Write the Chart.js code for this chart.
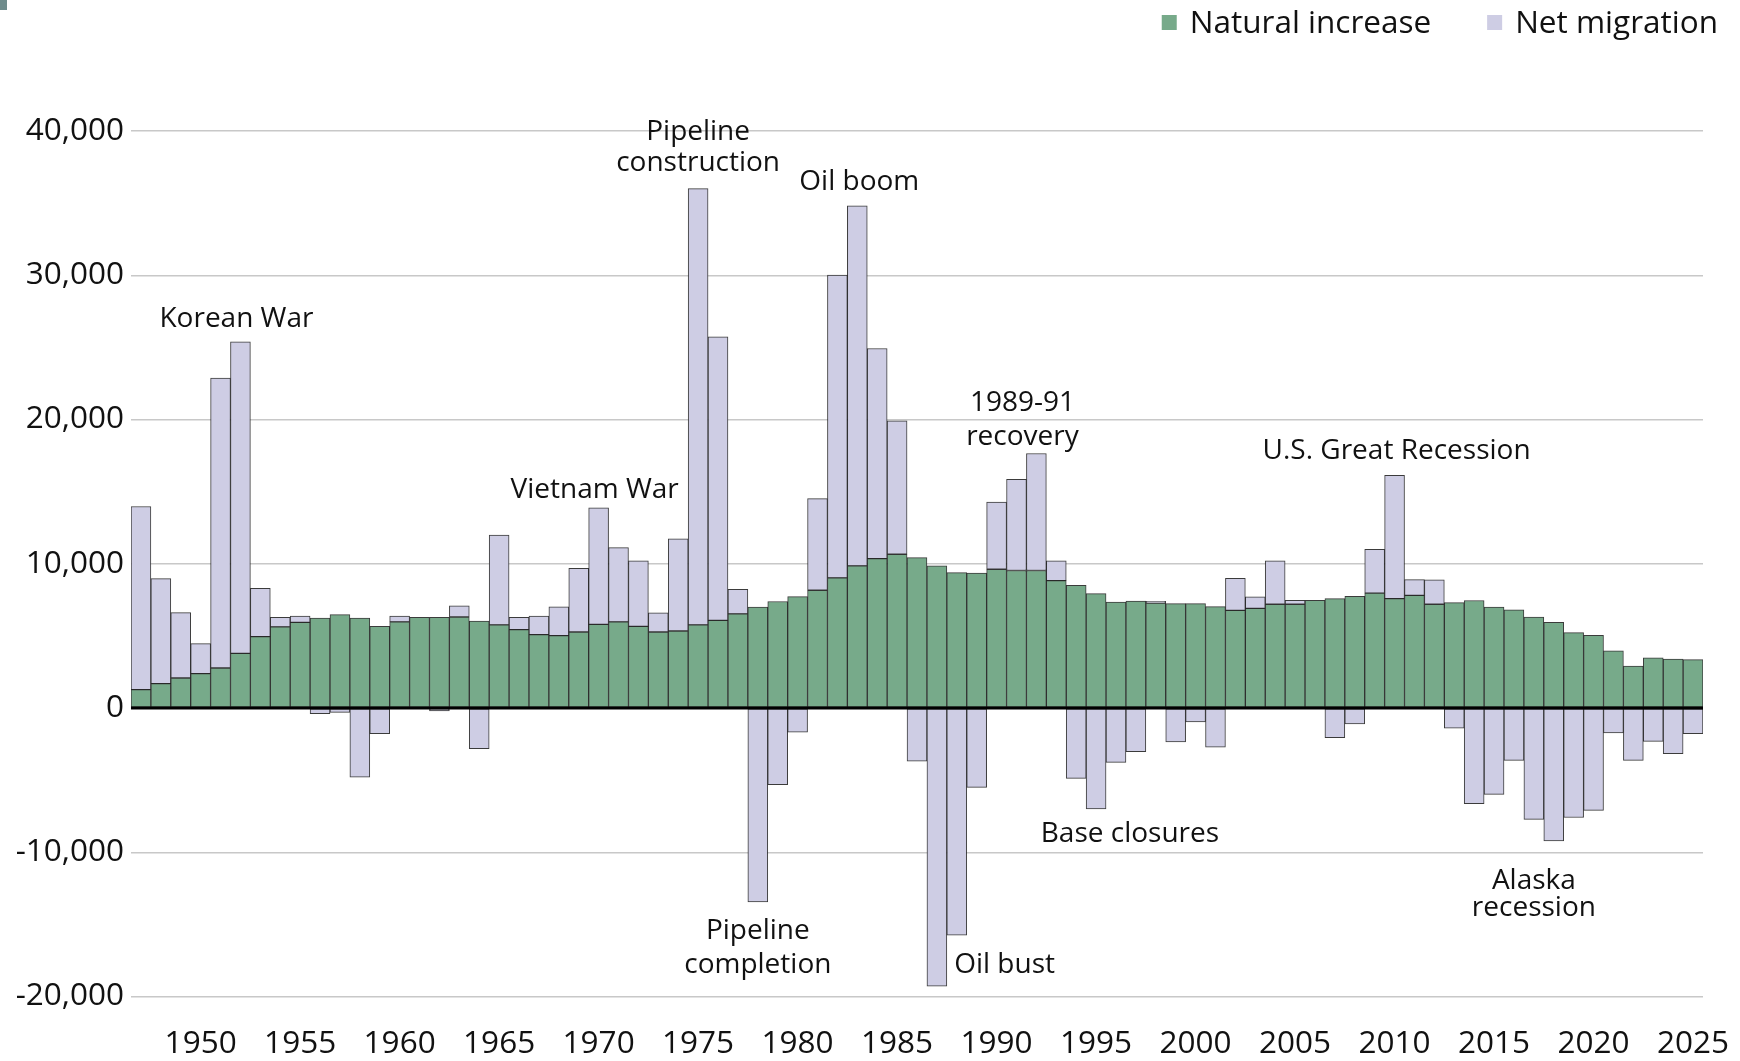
<!DOCTYPE html>
<html>
<head>
<meta charset="utf-8">
<title>Alaska population change</title>
<script src="https://cdn.jsdelivr.net/npm/chart.js@4.4.1/dist/chart.umd.min.js"></script>
<style>
  html, body { margin: 0; padding: 0; background: #fff; }
  #wrap { position: relative; width: 1740px; height: 1061px; }
  #corner { position: absolute; left: 0; top: 0; width: 7px; height: 10px; background: #6f8c8c; }
</style>
</head>
<body>
<div id="wrap"><canvas id="chart"></canvas><div id="corner"></div></div>
<script>
// Years on the x axis
const years = [
  1947, 1948, 1949, 1950, 1951, 1952, 1953, 1954, 1955, 1956,
  1957, 1958, 1959, 1960, 1961, 1962, 1963, 1964, 1965, 1966,
  1967, 1968, 1969, 1970, 1971, 1972, 1973, 1974, 1975, 1976,
  1977, 1978, 1979, 1980, 1981, 1982, 1983, 1984, 1985, 1986,
  1987, 1988, 1989, 1990, 1991, 1992, 1993, 1994, 1995, 1996,
  1997, 1998, 1999, 2000, 2001, 2002, 2003, 2004, 2005, 2006,
  2007, 2008, 2009, 2010, 2011, 2012, 2013, 2014, 2015, 2016,
  2017, 2018, 2019, 2020, 2021, 2022, 2023, 2024, 2025
];

// Natural increase (births minus deaths)
const naturalIncrease = [
  1270, 1690, 2080, 2380, 2770, 3790, 4950, 5620, 5940, 6240,
  6470, 6240, 5660, 5970, 6290, 6290, 6310, 6030, 5760, 5430,
  5090, 5020, 5270, 5800, 5970, 5660, 5270, 5340, 5760, 6080,
  6520, 7000, 7380, 7720, 8160, 9020, 9850, 10360, 10660, 10430,
  9850, 9390, 9360, 9620, 9530, 9530, 8830, 8510, 7930, 7350,
  7420, 7280, 7240, 7240, 7030, 6770, 6910, 7190, 7190, 7470,
  7580, 7750, 7960, 7580, 7810, 7190, 7310, 7450, 7000, 6800,
  6310, 5940, 5220, 5030, 3970, 2910, 3470, 3400, 3350
];

// Net migration (in minus out)
const netMigration = [
  12700, 7280, 4530, 2080, 20100, 21600, 3350, 670, 440, -390,
  -300, -4790, -1780, 410, 0, -200, 770, -2820, 6220, 860,
  1290, 1990, 4420, 8070, 5150, 4540, 1320, 6380, 30250, 19650,
  1710, -13450, -5320, -1670, 6360, 21000, 24960, 14560, 9250, -3680,
  -19280, -15740, -5500, 4650, 6330, 8110, 1370, -4880, -7000, -3770,
  -3030, 120, -2360, -970, -2710, 2220, 790, 3010, 280, 0,
  -2060, -1100, 3040, 8550, 1090, 1690, -1390, -6640, -5990, -3630,
  -7720, -9220, -7590, -7100, -1730, -3630, -2310, -3170, -1780
];

// Y axis ticks
const yTicks = [-20000, -10000, 0, 10000, 20000, 30000, 40000];

// Event labels, anchored in data units (year, value)
const notes = [
  { lines: ['Korean War'], year: 1951.8, values: [26950] },
  { lines: ['Vietnam War'], year: 1969.8, values: [15100] },
  { lines: ['Pipeline', 'construction'], year: 1975.0, values: [39900, 37750] },
  { lines: ['Oil boom'], year: 1983.1, values: [36450] },
  { lines: ['1989-91', 'recovery'], year: 1991.3, values: [21150, 18800] },
  { lines: ['U.S. Great Recession'], year: 2010.1, values: [17800] },
  { lines: ['Base closures'], year: 1996.7, values: [-8750] },
  { lines: ['Pipeline', 'completion'], year: 1978.0, values: [-15450, -17800] },
  { lines: ['Oil bust'], year: 1990.4, values: [-17800] },
  { lines: ['Alaska', 'recession'], year: 2017.0, values: [-12000, -13850] }
];

const GREEN = '#77aa8a';
const LAVENDER = '#cecde4';
const FONT = '"Open Sans", "Noto Sans", sans-serif';

function yearToPixel(xScale, year) {
  const i = years.indexOf(Math.floor(year));
  const frac = year - Math.floor(year);
  const p0 = xScale.getPixelForValue(i);
  if (frac === 0 || i + 1 >= years.length) return p0;
  const p1 = xScale.getPixelForValue(i + 1);
  return p0 + frac * (p1 - p0);
}

const overlay = {
  id: 'overlay',
  afterDatasetsDraw(chart) {
    const { ctx, chartArea, scales: { x, y } } = chart;
    ctx.save();
    // zero line on top of the bars
    const y0 = y.getPixelForValue(0);
    ctx.strokeStyle = '#000';
    ctx.lineWidth = 3;
    ctx.beginPath();
    ctx.moveTo(chartArea.left, y0);
    ctx.lineTo(chartArea.right, y0);
    ctx.stroke();

    // event labels
    ctx.font = '28px ' + FONT;
    ctx.fillStyle = '#111';
    ctx.textAlign = 'center';
    ctx.textBaseline = 'middle';
    notes.forEach(n => {
      const px = yearToPixel(x, n.year);
      n.lines.forEach((t, k) => {
        ctx.fillText(t, px, y.getPixelForValue(n.values[k]));
      });
    });
    ctx.restore();
  },
  afterDraw(chart) {
    // legend, top right
    const ctx = chart.ctx;
    ctx.save();
    ctx.font = '31.5px ' + FONT;
    ctx.textAlign = 'left';
    ctx.textBaseline = 'middle';
    const items = [
      { label: 'Natural increase', color: GREEN },
      { label: 'Net migration', color: LAVENDER }
    ];
    let right = 1718;
    for (let i = items.length - 1; i >= 0; i--) {
      const it = items[i];
      const w = ctx.measureText(it.label).width;
      const tx = right - w;
      ctx.fillStyle = it.color;
      ctx.fillRect(tx - 28, 15, 15, 15);
      ctx.fillStyle = '#111';
      ctx.fillText(it.label, tx, 24);
      right = tx - 28 - 56;
    }
    ctx.restore();
  }
};

new Chart(document.getElementById('chart'), {
  type: 'bar',
  data: {
    labels: years,
    datasets: [
      {
        label: 'Natural increase',
        data: naturalIncrease,
        backgroundColor: GREEN,
        borderColor: 'rgba(25,25,25,0.85)',
        borderWidth: 1,
        borderSkipped: false
      },
      {
        label: 'Net migration',
        data: netMigration,
        backgroundColor: LAVENDER,
        borderColor: 'rgba(25,25,25,0.85)',
        borderWidth: 1,
        borderSkipped: false
      }
    ]
  },
  options: {
    responsive: true,
    maintainAspectRatio: false,
    animation: false,
    layout: { padding: { top: 131, right: 37, bottom: 0, left: 0 } },
    datasets: {
      bar: { categoryPercentage: 1.0, barPercentage: 1.0 }
    },
    plugins: {
      legend: { display: false },
      tooltip: { enabled: false }
    },
    scales: {
      x: {
        stacked: true,
        grid: { display: false, drawTicks: false },
        border: { display: false },
        afterFit(scale) {
          scale.height = 64.5;
          scale.paddingLeft = 0;
          scale.paddingRight = 0;
        },
        ticks: {
          autoSkip: false,
          maxRotation: 0,
          padding: 29,
          color: '#111',
          font: { family: FONT, size: 31.5 },
          callback(value) {
            const yr = years[value];
            return yr % 5 === 0 ? String(yr) : '';
          }
        }
      },
      y: {
        stacked: true,
        min: -20000,
        max: 40000,
        grid: { color: '#c8c8c8', lineWidth: 1.5, drawTicks: false },
        border: { display: false },
        afterFit(scale) { scale.width = 131; },
        afterBuildTicks(scale) { scale.ticks = yTicks.map(v => ({ value: v })); },
        ticks: {
          padding: 7,
          color: '#111',
          font: { family: FONT, size: 31.5 },
          callback(value) { return value.toLocaleString('en-US'); }
        }
      }
    }
  },
  plugins: [overlay]
});
</script>
</body>
</html>
